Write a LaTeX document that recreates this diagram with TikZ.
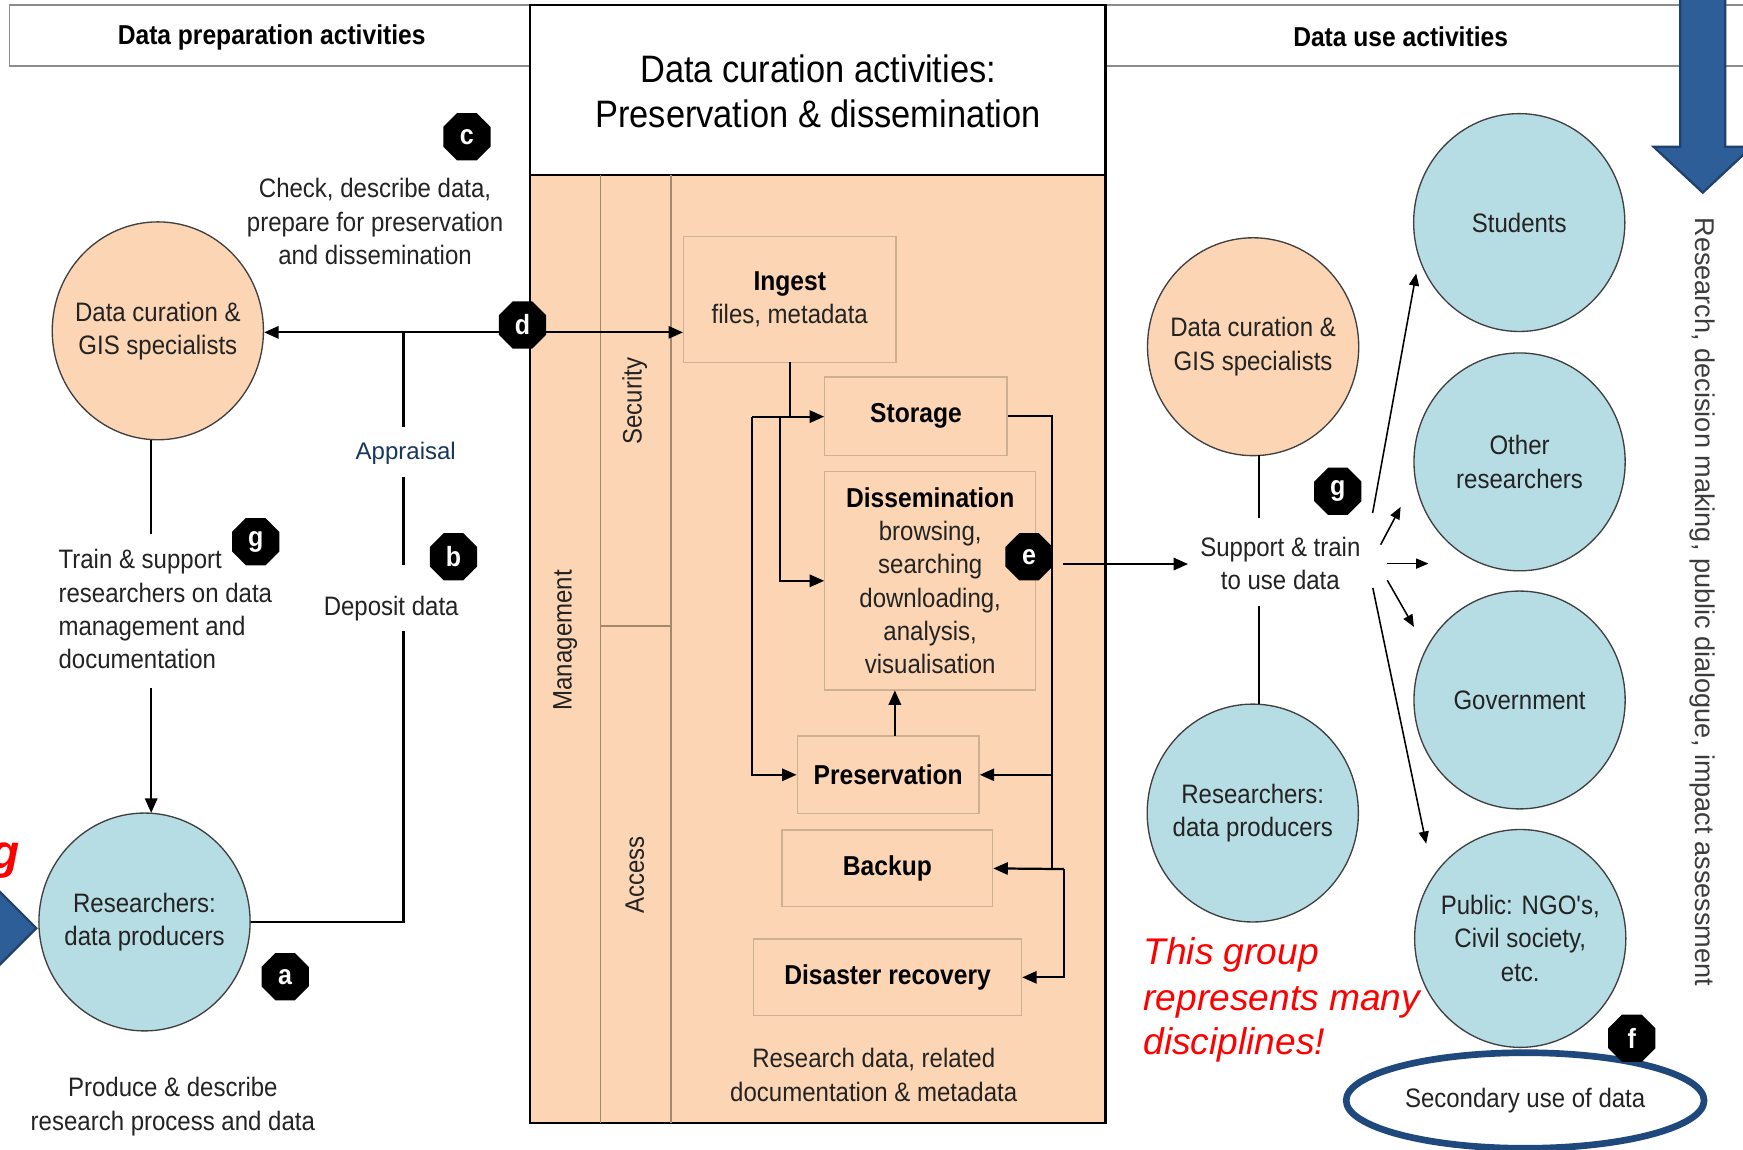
\documentclass[tikz,border=0pt]{standalone}
\usepackage{fontspec}
\setmainfont{Liberation Sans}
\newfontfamily\nar{Liberation Sans}[FakeStretch=0.9]
\usetikzlibrary{arrows.meta,shapes.geometric}
\definecolor{peach}{RGB}{252,213,180}
\definecolor{cblue}{RGB}{183,221,228}
\definecolor{boxbr}{RGB}{205,175,145}
\definecolor{linebr}{RGB}{165,135,105}
\definecolor{barrow}{RGB}{46,94,152}
\definecolor{barrowd}{RGB}{32,64,110}
\definecolor{navy}{RGB}{31,73,125}
\definecolor{appr}{RGB}{23,54,93}
\definecolor{hdrgray}{RGB}{140,140,140}
\definecolor{txtc}{RGB}{35,35,35}
\definecolor{vtxt}{RGB}{60,60,60}
\begin{document}
\begin{tikzpicture}[x=0.5pt,y=-0.5pt,
  bodytxt/.style={font=\nar\fontsize{12}{15}\selectfont, text=txtc, align=center, inner sep=0pt},
  boldtxt/.style={font=\nar\bfseries\fontsize{12.3}{15}\selectfont, text=black, align=center, inner sep=0pt},
  pcirc/.style={ellipse, draw=black!75, line width=0.6pt, fill=peach, minimum width=95pt, minimum height=98pt, inner sep=-12pt, align=center, font=\nar\fontsize{12}{15}\selectfont, text=txtc},
  bcirc/.style={pcirc, fill=cblue},
  pbox/.style={rectangle, draw=boxbr, line width=0.6pt, fill=peach, inner sep=0pt, align=center, font=\nar\fontsize{12}{15}\selectfont, text=txtc},
  badge/.style={regular polygon, regular polygon sides=8, fill=black, text=white, minimum size=23pt, inner sep=0pt, font=\nar\bfseries\fontsize{12.5}{12.5}\selectfont},
  conn/.style={line width=1pt, draw=black},
  arr/.style={conn, -{Triangle[length=6.5pt,width=5.5pt]}},
  tarr/.style={line width=0.7pt, draw=black, -{Triangle[length=5.5pt,width=4.5pt]}},
  redtxt/.style={font=\itshape\fontsize{16.7}{20}\selectfont, text=red, inner sep=0pt, anchor=base west},
]
\useasboundingbox (0,0) rectangle (1568,1034);
\clip (0,0) rectangle (1568,1034);
\fill[white] (0,0) rectangle (1568,1034);

% header boxes
\node[draw=hdrgray, line width=0.8pt, minimum width=234.2pt, minimum height=27.5pt, inner sep=0pt] (hl) at (242.8,32) {};
\node[boldtxt] (hlt) at (244.4,33.5) {Data preparation activities};
\node[draw=hdrgray, line width=0.8pt, minimum width=287.5pt, minimum height=27.5pt, inner sep=0pt] (hr) at (1282.5,32) {};
\node[boldtxt] (hrt) at (1260,33) {Data use activities};

% central box
\filldraw[fill=peach, draw=black, line width=1pt] (477,157.4) rectangle (994.5,1010);
\filldraw[fill=white, draw=black, line width=1pt] (477,4.5) rectangle (994.5,157.4);
\node[font=\nar\fontsize{17.2}{20}\selectfont, align=center, text=black, inner sep=0pt] (title) at (736,82) {Data curation activities:\\Preservation \& dissemination};
\draw[linebr, line width=0.6pt] (540,157.4) -- (540,1010) (603.7,157.4) -- (603.7,1010) (540,563) -- (603.7,563);
\node[bodytxt, rotate=90] (mgmt) at (508.5,576) {Management};
\node[bodytxt, rotate=90] (secu) at (571,361) {Security};
\node[bodytxt, rotate=90] (acc) at (571,787) {Access};

\node[pbox, minimum width=95.5pt, minimum height=56.5pt] (ingest) at (710.5,269.5) {{\nar\bfseries\fontsize{12.3}{15}\selectfont\color{black} Ingest}\\files, metadata};
\node[pbox, minimum width=82pt, minimum height=35.5pt, font=\nar\bfseries\fontsize{12.3}{15}\selectfont, text=black] (storage) at (824,374.5) {Storage};
\node[pbox, minimum width=94.8pt, minimum height=98.3pt] (diss) at (836.8,522.5) {{\nar\bfseries\fontsize{12.3}{15}\selectfont\color{black} Dissemination}\\browsing,\\searching\\downloading,\\analysis,\\visualisation};
\node[pbox, minimum width=81.8pt, minimum height=35pt, font=\nar\bfseries\fontsize{12.3}{15}\selectfont, text=black] (pres) at (799,697) {Preservation};
\node[pbox, minimum width=94.7pt, minimum height=34.5pt, font=\nar\bfseries\fontsize{12.3}{15}\selectfont, text=black] (backup) at (798.3,781.2) {Backup};
\node[pbox, minimum width=120.5pt, minimum height=34.5pt, font=\nar\bfseries\fontsize{12.3}{15}\selectfont, text=black] (disaster) at (798.5,879.2) {Disaster recovery};
\node[bodytxt] (rdata) at (786,967) {Research data, related\\documentation \& metadata};

% circles
\node[pcirc] (lcur) at (142,297.6) {Data curation \&\\GIS specialists};
\node[bcirc] (lres) at (130,829.4) {Researchers:\\data producers};
\node[pcirc] (rcur) at (1127.3,311.9) {Data curation \&\\GIS specialists};
\node[bcirc] (rres) at (1127,731.4) {Researchers:\\data producers};
\node[bcirc] (stud) at (1366.7,200.2) {Students};
\node[bcirc] (other) at (1367,415.5) {Other\\researchers};
\node[bcirc] (gov) at (1367,629.7) {Government};
\node[bcirc] (pub) at (1367.6,844.2) {Public: NGO's,\\Civil society,\\etc.};

% left labels
\node[bodytxt] (check) at (337.4,199.4) {Check, describe data,\\prepare for preservation\\and dissemination};
\node[bodytxt, align=left, anchor=west] (train) at (52.3,548) {Train \& support\\researchers on data\\management and\\documentation};
\node[font=\fontsize{10.8}{13}\selectfont, text=appr, inner sep=0pt] (apprl) at (365,407.8) {Appraisal};
\node[bodytxt] (depo) at (351.9,547.3) {Deposit data};
\node[bodytxt] (prod) at (155.5,995.5) {Produce \& describe\\research process and data};

% left connectors
\coordinate (j1) at (363,299);
\draw[arr] (j1) -- (j1 -| lcur.east);
\draw[arr] (j1) -- (j1 -| ingest.west);
\draw[conn] (j1) -- (363,384);
\draw[conn] (363,429) -- (363,508);
\draw[conn] (363,568) |- (lres.east);
\draw[conn] (136,395.5) -- (136,480);
\draw[arr] (136,619) -- (136,731.3);

% center connectors
\coordinate (sj) at (676.8,374.8);
\draw[conn] (710.5,326) -- (710.5,374.8);
\draw[arr] (sj) -- (sj -| storage.west);
\draw[arr] (702,374.8) |- (diss.west);
\draw[arr] (sj) |- (pres.west);
\draw[arr] (805,662) -- (805,621);
\draw[conn] (storage.east) -| (946.4,781.8) -- (957.3,781.8);
\draw[arr] (946.4,697) -- (pres.east);
\draw[arr] (957.3,781.8) -- (backup.east);
\draw[arr] (957.3,781.8) |- (disaster.east);

% right side
\node[bodytxt] (supp) at (1151.8,506.8) {Support \& train\\to use data};
\draw[arr] (956.6,507.4) -- (1068.8,507.4);
\draw[line width=0.8pt] (1132.6,409.2) -- (1132.6,466);
\draw[line width=0.8pt] (1132.6,545) -- (1132.6,633);
\draw[tarr] (1234.8,461.5) -- (1274,246);
\draw[tarr] (1242,490) -- (1260,456);
\draw[tarr] (1248,507) -- (1285,507);
\draw[tarr] (1248,522) -- (1272,564);
\draw[tarr] (1235,529) -- (1283,759);

\node[redtxt] (red1) at (1028.3,868) {This group};
\node[redtxt] (red2) at (1028.3,908.6) {represents many};
\node[redtxt] (red3) at (1028.3,949) {disciplines!};

\node[ellipse, draw=navy, line width=3pt, minimum width=161pt, minimum height=43pt, inner sep=0pt, font=\nar\fontsize{12}{15}\selectfont, text=txtc] (sec) at (1372,990) {Secondary use of data};

\node[font=\fontsize{12.2}{14}\selectfont, text=vtxt, rotate=-90, inner sep=0pt] (vt) at (1531.8,541.5) {Research, decision making, public dialogue, impact assessment};

% blue arrows
\filldraw[fill=barrow, draw=barrowd, line width=1pt] (1511.5,-10) -- (1511.5,132) -- (1487.5,132) -- (1531.8,173.3) -- (1576,132) -- (1552,132) -- (1552,-10) -- cycle;
\filldraw[fill=barrow, draw=barrowd, line width=1pt] (-20,782.3) -- (32.7,835) -- (-20,887.7) -- cycle;
\node[anchor=base east, text=red, font=\bfseries\itshape\fontsize{21.5}{24}\selectfont, inner sep=0pt] (rg) at (18,781) {g};

% badges
\node[badge] (bc) at (420,123) {c};
\node[badge] (bd) at (470,292.4) {d};
\node[badge] (bb) at (408,500.8) {b};
\node[badge] (bg1) at (230,487.3) {g};
\node[badge] (ba) at (256.5,878.6) {a};
\node[badge] (be) at (925.7,500.8) {e};
\node[badge] (bg2) at (1203.5,442) {g};
\node[badge] (bf) at (1468,934) {f};
\end{tikzpicture}
\end{document}
